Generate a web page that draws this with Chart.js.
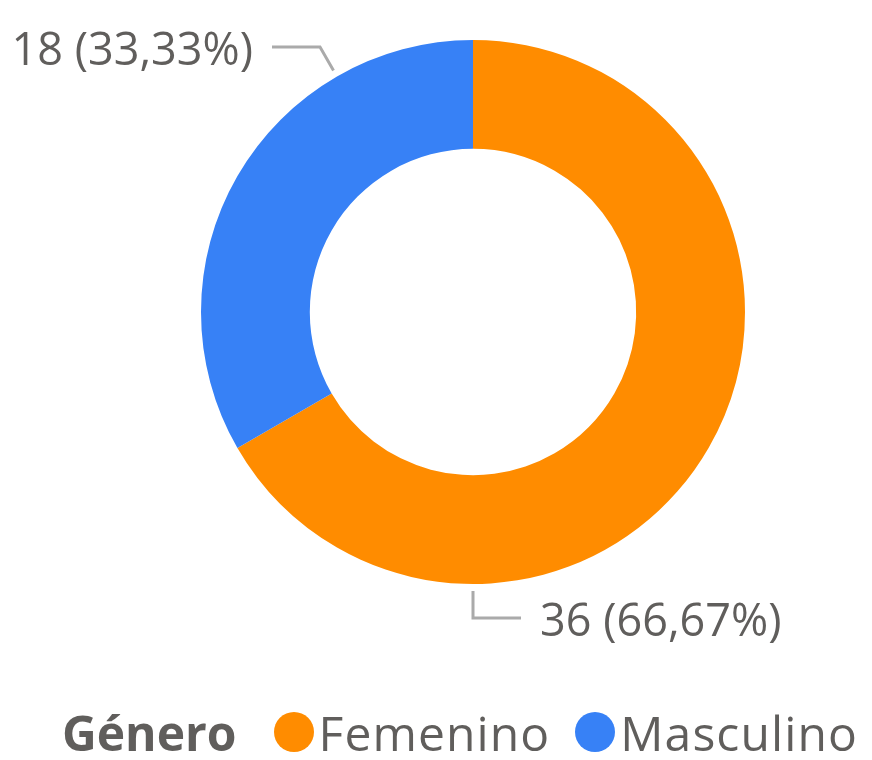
<!DOCTYPE html>
<html>
<head>
<meta charset="utf-8">
<script src="https://cdn.jsdelivr.net/npm/chart.js@4.4.0/dist/chart.umd.min.js"></script>
<style>
  html, body { margin: 0; padding: 0; background: #fff; }
  #wrap { position: relative; width: 872px; height: 760px; }
  #legend {
    position: absolute; left: 62px; top: 702px; height: 60px;
    display: flex; align-items: center;
    font-family: "Open Sans", "Noto Sans", sans-serif; font-size: 48px; color: #605E5C;
    white-space: nowrap;
  }
  #legend .title { font-weight: bold; margin-right: 37px; }
  #legend .item { display: flex; align-items: center; margin-right: 25px; letter-spacing: 1.1px; }
  #legend .dot { width: 40px; height: 40px; border-radius: 50%; margin-right: 5px; }
</style>
</head>
<body>
<div id="wrap">
  <canvas id="chart" width="872" height="760"></canvas>
  <div id="legend"></div>
</div>
<script>
// Data
var categories = ["Femenino", "Masculino"];
var values = [36, 18];
var colors = ["#FF8C00", "#3781F6"];
var legendTitle = "Género";

function fmtPct(v, total) {
  return (v / total * 100).toFixed(2).replace(".", ",") + "%";
}

// Leader lines + data labels
var labelPlugin = {
    id: "leaderLabels",
    afterDatasetsDraw: function (chart) {
        var ctx = chart.ctx;
        var meta = chart.getDatasetMeta(0);
        var total = values.reduce(function (a, b) { return a + b; }, 0);
        meta.data.forEach(function (arc, i) {
            var p = arc.getProps(["x", "y", "startAngle", "endAngle", "outerRadius"], true);
            var a = p.startAngle + 0.75 * (p.endAngle - p.startAngle);
            var cos = Math.cos(a), sin = Math.sin(a);
            var r1 = p.outerRadius + 7, r2 = p.outerRadius + 34;
            var x1 = p.x + cos * r1, y1 = p.y + sin * r1;
            var x2 = p.x + cos * r2, y2 = p.y + sin * r2;
            var dir = cos < 0 ? -1 : 1;
            var x3 = x2 + dir * 48;
            ctx.save();
            ctx.strokeStyle = "#AAAAAA";
            ctx.lineWidth = 3;
            ctx.beginPath();
            ctx.moveTo(x1, y1);
            ctx.lineTo(x2, y2);
            ctx.lineTo(x3, y2);
            ctx.stroke();
            ctx.fillStyle = "#605E5C";
            ctx.font = "45px 'Open Sans', 'Noto Sans', sans-serif";
            ctx.textBaseline = "middle";
            ctx.textAlign = dir < 0 ? "right" : "left";
            ctx.fillText(values[i] + " (" + fmtPct(values[i], total) + ")", x3 + dir * 19, y2 + 5);
            ctx.restore();
        });
    },
};

new Chart(document.getElementById("chart"), {
    type: "doughnut",
    data: {
        labels: categories,
        datasets: [
            {
                data: values,
                backgroundColor: colors,
                borderWidth: 0,
            },
        ],
    },
    options: {
        responsive: false,
        animation: false,
        cutout: "60%",
        layout: { padding: { left: 201, right: 127, top: 40, bottom: 176 } },
        plugins: {
            legend: { display: false },
            tooltip: { enabled: false },
        },
    },
    plugins: [labelPlugin],
});

// HTML legend
var legendEl = document.getElementById("legend");
var html = '<span class="title">' + legendTitle + "</span>";
categories.forEach(function (c, i) {
    html += '<span class="item"><span class="dot" style="background:' + colors[i] + '"></span>' + c + "</span>";
});
legendEl.innerHTML = html;
</script>
</body>
</html>
